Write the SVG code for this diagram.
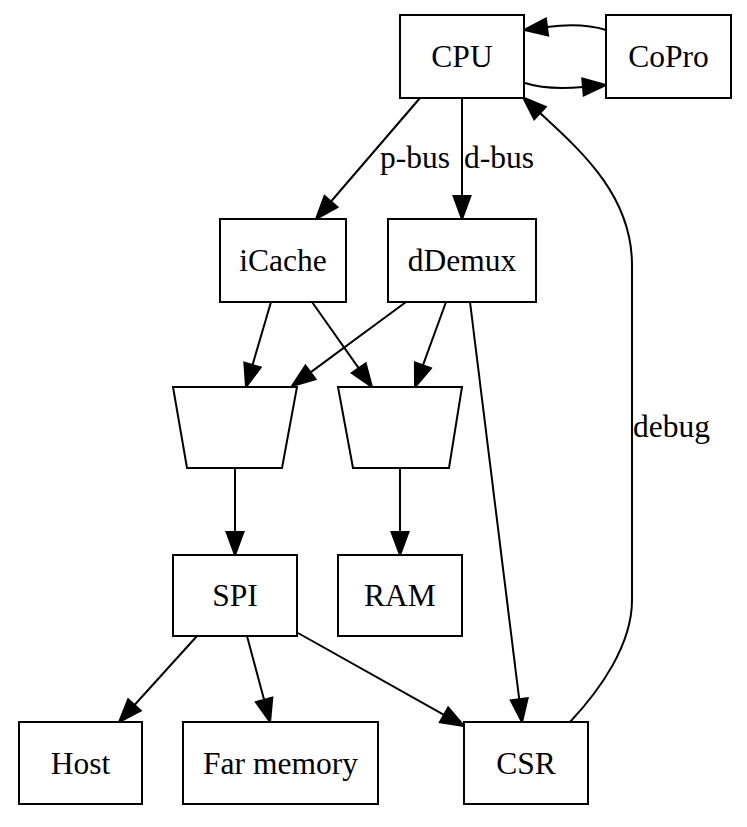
<svg xmlns="http://www.w3.org/2000/svg" width="747" height="827" viewBox="0 0 747 827">
<style>
.n{fill:#fff;stroke:#000;stroke-width:2}
.t{font-family:"Liberation Serif","Times New Roman",serif;font-size:31.5px;fill:#000;text-anchor:middle}
.l{font-family:"Liberation Serif","Times New Roman",serif;font-size:31.5px;fill:#000}
.e{fill:none;stroke:#000;stroke-width:2;marker-end:url(#ah)}
</style>
<defs>
<marker id="ah" markerUnits="userSpaceOnUse" markerWidth="30" markerHeight="24" refX="1" refY="10" orient="auto" overflow="visible">
<path d="M1,1.5 L24,10 L1,18.5 Z" fill="#000" stroke="#000" stroke-width="2"/>
</marker>
</defs>
<rect width="747" height="827" fill="#fff"/>
<g id="edges">
<path class="e" d="M525,83 C540,88 560,89 583,87"/>
<path class="e" d="M606,30 C590,25 570,24 547,27"/>
<path class="e" d="M420,98 L331,201.5"/>
<path class="e" d="M462,98 L462,196"/>
<path class="e" d="M271,302 L252.5,365"/>
<path class="e" d="M312,302 L358.7,368.2"/>
<path class="e" d="M406,302 L310.5,372.4"/>
<path class="e" d="M446,302 L422.9,365.4"/>
<path class="e" d="M470,302 L519.2,699.2"/>
<path class="e" d="M235,468 L235,532"/>
<path class="e" d="M400,468 L400,532"/>
<path class="e" d="M197,636 L134.5,705"/>
<path class="e" d="M247,636 L264.1,699.8"/>
<path class="e" d="M298,633 L444,714.8"/>
<path class="e" d="M570,722 C600,690 632,645 632,600 L632,265 C632,195 580,150 540,113"/>
<text class="l" x="380" y="168">p-bus</text>
<text class="l" x="464" y="168">d-bus</text>
<text class="l" x="633" y="437">debug</text>
</g>
<g id="CPU"><rect class="n" x="400" y="15" width="124" height="83"/><text class="t" x="462" y="67">CPU</text></g>
<g id="CoPro"><rect class="n" x="606" y="15" width="125" height="83"/><text class="t" x="668.5" y="67">CoPro</text></g>
<g id="iCache"><rect class="n" x="220" y="219" width="126" height="83"/><text class="t" x="283" y="271">iCache</text></g>
<g id="dDemux"><rect class="n" x="388" y="219" width="148" height="83"/><text class="t" x="462" y="271">dDemux</text></g>
<g id="mux1"><polygon class="n" points="173,387 297,387 282,468 187,468"/></g>
<g id="mux2"><polygon class="n" points="338,387 462,387 449,468 353,468"/></g>
<g id="SPI"><rect class="n" x="173" y="555" width="124" height="81"/><text class="t" x="235" y="606">SPI</text></g>
<g id="RAM"><rect class="n" x="338" y="555" width="124" height="81"/><text class="t" x="400" y="606">RAM</text></g>
<g id="Host"><rect class="n" x="19" y="722" width="123" height="82"/><text class="t" x="80.5" y="774">Host</text></g>
<g id="FarMemory"><rect class="n" x="183" y="722" width="195" height="82"/><text class="t" x="280.5" y="774">Far memory</text></g>
<g id="CSR"><rect class="n" x="464" y="722" width="124" height="82"/><text class="t" x="526" y="774">CSR</text></g>
</svg>
